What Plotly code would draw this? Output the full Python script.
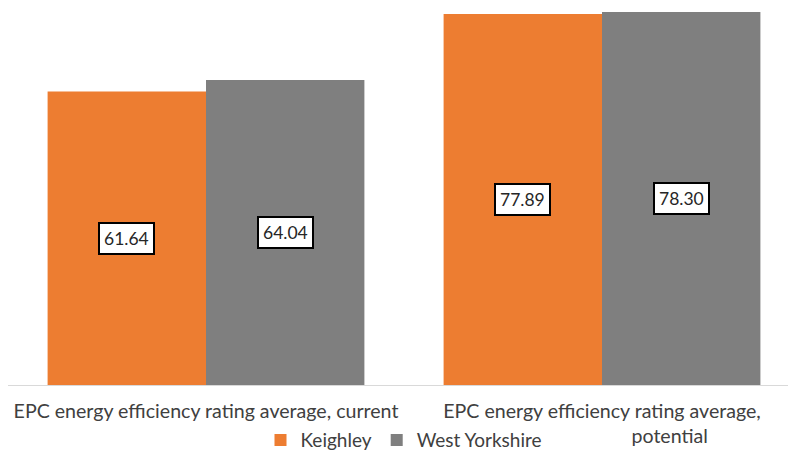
import plotly.graph_objects as go

categories = ["EPC energy efficiency rating average, current",
              "EPC energy efficiency rating average,<br>" + "\u00a0" * 27 + "potential"]
series_names = ["Keighley", "West Yorkshire"]
keighley = [61.64, 77.89]
west_yorkshire = [64.04, 78.30]
colors = ["#ED7D31", "#7F7F7F"]

FONT = "Lato"
fig = go.Figure()
for name, vals, col in zip(series_names, [keighley, west_yorkshire], colors):
    fig.add_trace(go.Bar(name=name, x=[0, 1], y=vals, marker=dict(color=col, line=dict(width=0))))

annotations = []
for k, vals in enumerate([keighley, west_yorkshire]):
    off = -0.2 if k == 0 else 0.2
    for i, v in enumerate(vals):
        annotations.append(dict(x=i + off, y=v / 2, xref="x", yref="y", text=f"{v:.2f}",
                                showarrow=False, bgcolor="white", bordercolor="black",
                                borderwidth=2, borderpad=4,
                                font=dict(family=FONT, size=17.5, color="#262626")))

fig.update_layout(
    width=796, height=451,
    margin=dict(l=0, r=4, t=0, b=74, autoexpand=False),
    paper_bgcolor="white", plot_bgcolor="white",
    barmode="group", bargap=0.2, bargroupgap=0,
    showlegend=True,
    legend=dict(orientation="h", x=0.50, xanchor="center", y=-0.146, yanchor="middle",
                font=dict(family=FONT, size=19, color="#404040"), traceorder="normal",
                itemwidth=30),
    annotations=annotations,
    font=dict(family=FONT),
)
fig.update_xaxes(tickmode="array", tickvals=[0, 1], ticktext=categories, range=[-0.5, 1.5],
                 showline=True, linecolor="#D9D9D9", linewidth=1, ticks="",
                 ticklabelstandoff=8,
                 tickfont=dict(family=FONT, size=19.6, color="#404040"), showgrid=False)
fig.update_yaxes(range=[0, 79.16], visible=False, showgrid=False, zeroline=False)

fig.write_html("out.html")
